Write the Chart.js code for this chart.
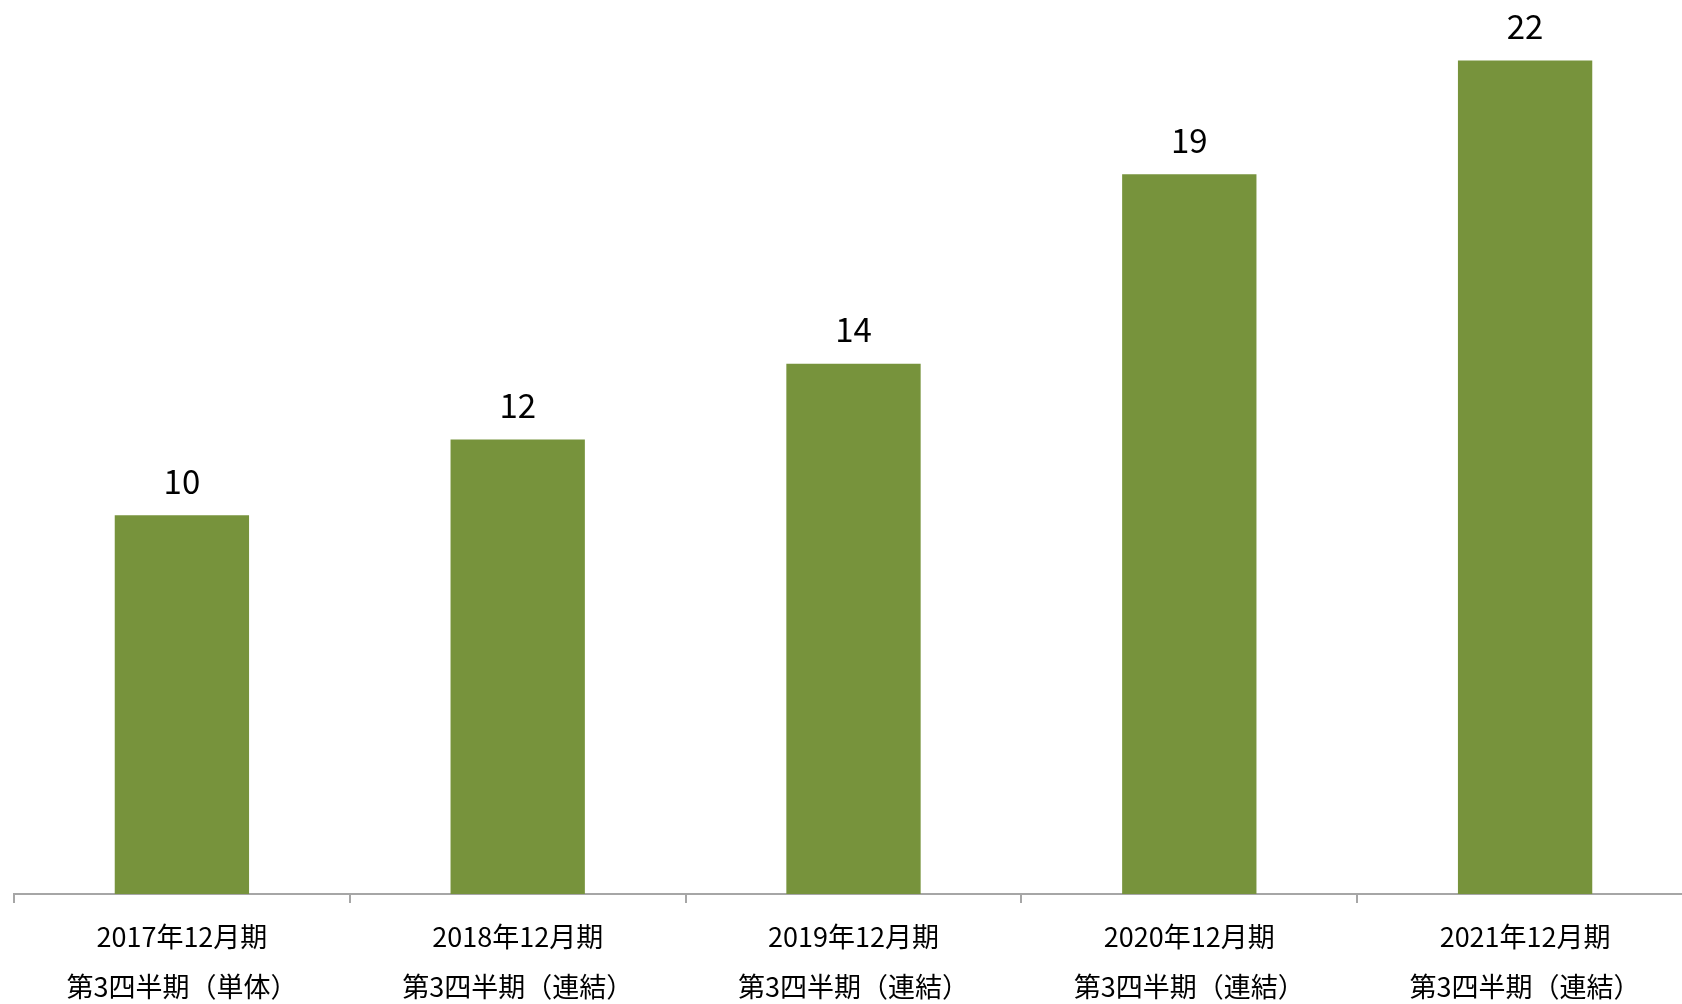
<!DOCTYPE html>
<html>
<head>
<meta charset="utf-8">
<script src="https://cdn.jsdelivr.net/npm/chart.js@4"></script>
<style>
  html, body { margin: 0; padding: 0; background: white; overflow: hidden; }
</style>
</head>
<body>
<canvas id="myChart" width="1700" height="1004"></canvas>
<script>
// データ
const periods = ["2017年12月期", "2018年12月期", "2019年12月期", "2020年12月期", "2021年12月期"];
const scopes = ["第3四半期（単体）", "第3四半期（連結）", "第3四半期（連結）", "第3四半期（連結）", "第3四半期（連結）"];
const values = [10, 12, 14, 19, 22];

const barColor = "#77933C";
const axisColor = "#A6A6A6";
const fontFamily = "'Noto Sans CJK JP', 'Noto Sans', sans-serif";

// 棒の上に値を表示
const valueLabels = {
  id: "valueLabels",
  afterDatasetsDraw(chart) {
    const ctx = chart.ctx;
    ctx.save();
    ctx.font = "33px " + fontFamily;
    ctx.fillStyle = "#000000";
    ctx.textAlign = "center";
    ctx.textBaseline = "middle";
    chart.getDatasetMeta(0).data.forEach((bar, i) => {
      ctx.fillText(String(values[i]), bar.x, bar.y - 34);
    });
    ctx.restore();
  },
};

const labels = periods.map((p, i) => [p, scopes[i]]);

new Chart(document.getElementById("myChart").getContext("2d"), {
  type: "bar",
  data: {
    labels: labels,
    datasets: [
      {
        data: values,
        backgroundColor: barColor,
        borderWidth: 0,
        barPercentage: 0.4,
        categoryPercentage: 1,
      },
    ],
  },
  options: {
    responsive: false,
    animation: false,
    devicePixelRatio: 1,
    layout: { padding: { left: 14, right: 7, top: 0, bottom: 0 } },
    plugins: {
      legend: { display: false },
      tooltip: { enabled: false },
    },
    scales: {
      x: {
        offset: true,
        border: { display: true, color: axisColor, width: 2 },
        grid: {
          offset: true,
          drawOnChartArea: false,
          drawTicks: true,
          tickLength: 9,
          color: axisColor,
          lineWidth: 2,
        },
        ticks: {
          color: "#000000",
          padding: 8,
          maxRotation: 0,
          autoSkip: false,
          font: { family: fontFamily, size: 27, lineHeight: 1.87 },
        },
        afterFit(scale) {
          scale.height = 110;
        },
      },
      y: {
        display: false,
        min: 0,
        max: 23.6,
      },
    },
  },
  plugins: [valueLabels],
});
</script>
</body>
</html>
